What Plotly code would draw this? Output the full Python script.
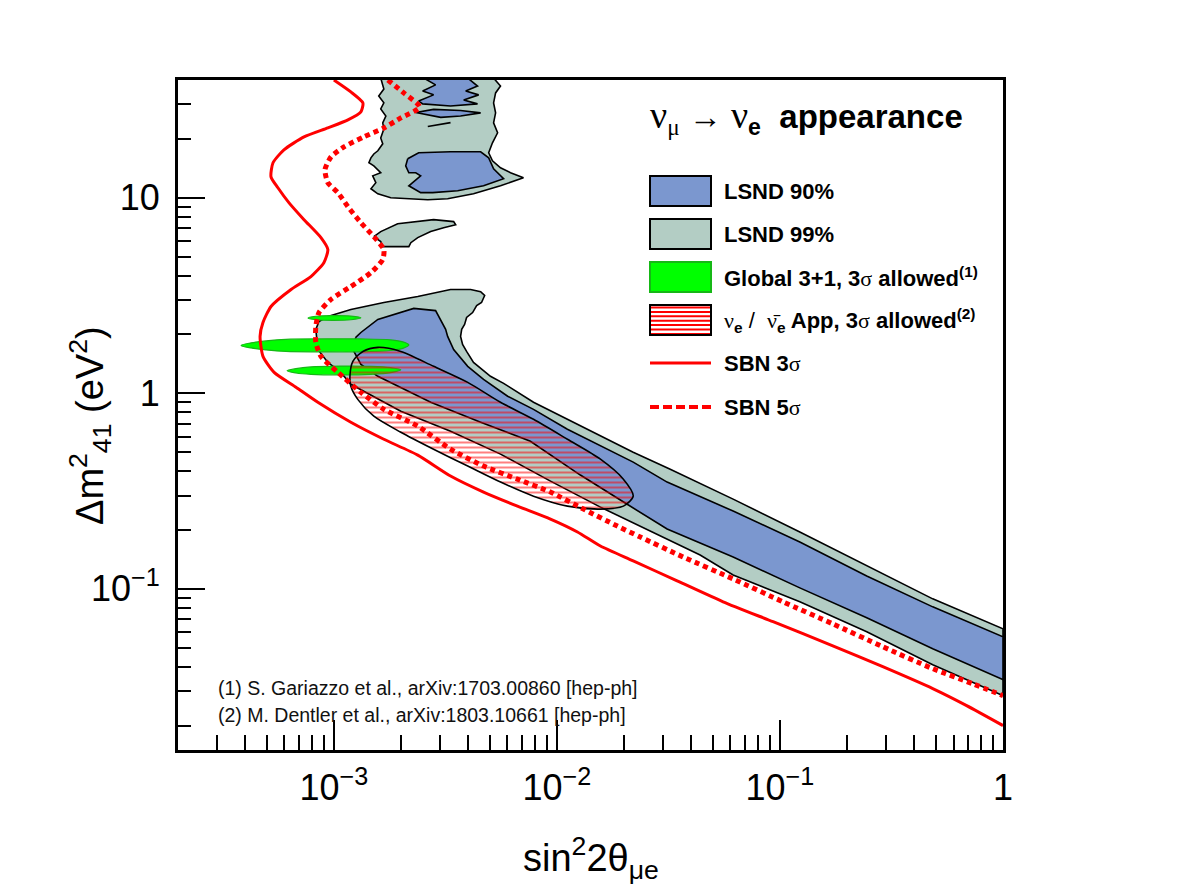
import numpy as np
import plotly.graph_objects as go

# ------------------------------------------------------------------
# Data (stored as log10 values: x = sin^2(2theta_mue), y = dm^2_41 [eV^2])
# ------------------------------------------------------------------
SBN3_LOGX = [-3.000, -2.924, -2.870, -2.879, -2.937, -3.027, -3.134, -3.224, -3.273, -3.282,
             -3.251, -3.201, -3.134, -3.058, -3.027, -3.045, -3.103, -3.192, -3.282, -3.318,
             -3.331, -3.318, -3.268, -3.170, -3.072, -2.924, -2.776, -2.624, -2.477, -2.329,
             -2.177, -2.029, -1.908, -1.805, -1.658, -1.461, -1.255, -1.031, -0.763, -0.539,
             -0.315, -0.163, 0.000]
SBN3_LOGY = [1.602, 1.541, 1.485, 1.439, 1.398, 1.357, 1.311, 1.245, 1.179, 1.107,
             1.051, 0.974, 0.888, 0.796, 0.735, 0.668, 0.597, 0.531, 0.444, 0.362,
             0.291, 0.189, 0.107, 0.031, -0.046, -0.148, -0.235, -0.316, -0.423, -0.505,
             -0.577, -0.643, -0.709, -0.781, -0.857, -0.959, -1.066, -1.168, -1.291, -1.398,
             -1.510, -1.597, -1.699]

SBN5_LOGX = [-2.758, -2.687, -2.615, -2.700, -2.776, -2.866, -2.955, -3.013, -3.040, -3.027,
             -2.982, -2.937, -2.879, -2.821, -2.776, -2.781, -2.834, -2.924, -3.013, -3.067,
             -3.081, -3.081, -3.058, -2.982, -2.879, -2.776, -2.624, -2.477, -2.329, -2.177,
             -2.029, -1.881, -1.729, -1.626, -1.434, -1.210, -0.987, -0.763, -0.539, -0.315,
             -0.136, 0.000]
SBN5_LOGY = [1.602, 1.536, 1.464, 1.408, 1.357, 1.311, 1.260, 1.209, 1.143, 1.077,
             1.026, 0.954, 0.872, 0.801, 0.735, 0.684, 0.617, 0.546, 0.480, 0.413,
             0.342, 0.260, 0.189, 0.107, 0.005, -0.082, -0.168, -0.286, -0.372, -0.439,
             -0.505, -0.592, -0.679, -0.735, -0.837, -0.949, -1.066, -1.179, -1.296, -1.408,
             -1.485, -1.546]

LSND99_MAIN_LOGX = [-3.081, -3.067, -3.027, -2.969, -2.924, -2.776, -2.624, -2.477, -2.387, -2.342,
                    -2.324, -2.338, -2.360, -2.378, -2.405, -2.414, -2.427, -2.432, -2.423, -2.405,
                    -2.374, -2.298, -2.239, -2.105, -1.953, -1.805, -1.658, -1.492, -1.210, -0.911,
                    -0.611, -0.315, 0.000, 0.000, -0.315, -0.611, -0.911, -1.210, -1.358, -1.582,
                    -1.805, -2.029, -2.253, -2.477, -2.700, -2.924, -2.969, -3.027, -3.072]
LSND99_MAIN_LOGY = [0.327, 0.367, 0.393, 0.413, 0.429, 0.464, 0.495, 0.531, 0.531, 0.520,
                    0.500, 0.464, 0.449, 0.413, 0.388, 0.352, 0.327, 0.291, 0.250, 0.214,
                    0.158, 0.087, 0.051, -0.046, -0.133, -0.219, -0.301, -0.388, -0.541, -0.709,
                    -0.883, -1.051, -1.204, -1.546, -1.388, -1.219, -1.066, -0.929, -0.827, -0.704,
                    -0.582, -0.449, -0.311, -0.194, -0.092, 0.046, 0.107, 0.158, 0.224]

LSND99_TOP_LOGX = [-2.790, -2.776, -2.799, -2.776, -2.790, -2.767, -2.781, -2.776, -2.790, -2.781,
                   -2.803, -2.821, -2.834, -2.843, -2.821, -2.790, -2.826, -2.812, -2.834, -2.803,
                   -2.745, -2.669, -2.579, -2.490, -2.374, -2.253, -2.150, -2.208, -2.253, -2.289,
                   -2.306, -2.289, -2.266, -2.284, -2.275, -2.284, -2.275, -2.253, -2.284]
LSND99_TOP_LOGY = [1.612, 1.556, 1.520, 1.485, 1.454, 1.418, 1.383, 1.352, 1.306, 1.276,
                   1.240, 1.224, 1.204, 1.179, 1.163, 1.128, 1.112, 1.077, 1.046, 1.020,
                   1.000, 0.995, 0.990, 0.995, 1.020, 1.061, 1.102, 1.128, 1.153, 1.189,
                   1.230, 1.281, 1.332, 1.383, 1.434, 1.485, 1.536, 1.571, 1.612]

LSND99_MID_LOGX = [-2.821, -2.790, -2.714, -2.669, -2.553, -2.463, -2.454, -2.508, -2.566, -2.624,
                   -2.655, -2.664, -2.781, -2.790, -2.808]
LSND99_MID_LOGY = [0.801, 0.827, 0.867, 0.872, 0.888, 0.878, 0.862, 0.847, 0.827, 0.796,
                   0.770, 0.750, 0.750, 0.776, 0.791]

LSND90_MAIN_LOGX = [-2.902, -2.879, -2.803, -2.700, -2.642, -2.544, -2.517, -2.499, -2.490, -2.463,
                    -2.400, -2.329, -2.221, -2.105, -1.953, -1.805, -1.658, -1.506, -1.210, -0.911,
                    -0.611, -0.315, 0.000, 0.000, -0.315, -0.611, -0.911, -1.210, -1.506, -1.694,
                    -1.895, -2.119, -2.342, -2.566, -2.803, -2.879, -2.915]
LSND90_MAIN_LOGY = [0.286, 0.311, 0.378, 0.413, 0.434, 0.423, 0.362, 0.327, 0.291, 0.224,
                    0.138, 0.071, -0.015, -0.082, -0.184, -0.270, -0.352, -0.454, -0.602, -0.760,
                    -0.934, -1.092, -1.245, -1.464, -1.306, -1.148, -0.995, -0.837, -0.694, -0.561,
                    -0.418, -0.245, -0.148, -0.046, 0.087, 0.148, 0.224]

LSND90_TOP_LOGX = [-2.597, -2.544, -2.602, -2.553, -2.620, -2.602, -2.477, -2.356, -2.418, -2.351,
                   -2.409, -2.356, -2.400]
LSND90_TOP_LOGY = [1.612, 1.577, 1.546, 1.526, 1.495, 1.480, 1.469, 1.480, 1.500, 1.526,
                   1.546, 1.571, 1.612]

LSND90_LENS_LOGX = [-2.633, -2.553, -2.432, -2.342, -2.432, -2.521]
LSND90_LENS_LOGY = [1.436, 1.452, 1.446, 1.434, 1.418, 1.411]

LSND90_ISL_LOGX = [-2.669, -2.620, -2.477, -2.342, -2.306, -2.284, -2.239, -2.329, -2.445, -2.557,
                   -2.611, -2.664, -2.647, -2.611, -2.633, -2.664, -2.678]
LSND90_ISL_LOGY = [1.199, 1.230, 1.235, 1.235, 1.204, 1.148, 1.097, 1.061, 1.036, 1.026,
                   1.026, 1.061, 1.077, 1.112, 1.128, 1.128, 1.163]

LSND_SEG_LOGX = [-2.579, -2.477]
LSND_SEG_LOGY = [1.364, 1.384]

GLOBAL1_LOGX = [-3.116, -3.081, -3.000, -2.924, -2.879, -2.924, -3.000, -3.081]
GLOBAL1_LOGY = [0.385, 0.394, 0.397, 0.395, 0.386, 0.376, 0.373, 0.376]
GLOBAL2_LOGX = [-3.416, -3.371, -3.304, -3.215, -3.058, -2.879, -2.745, -2.691, -2.664, -2.691,
                -2.745, -2.879, -3.058, -3.215, -3.304, -3.371]
GLOBAL2_LOGY = [0.245, 0.258, 0.268, 0.276, 0.278, 0.278, 0.273, 0.263, 0.247, 0.230,
                0.219, 0.212, 0.212, 0.214, 0.222, 0.232]
GLOBAL3_LOGX = [-3.210, -3.170, -3.103, -2.969, -2.834, -2.745, -2.700, -2.745, -2.834, -2.969,
                -3.103, -3.170]
GLOBAL3_LOGY = [0.115, 0.126, 0.135, 0.139, 0.138, 0.131, 0.120, 0.106, 0.097, 0.094,
                0.097, 0.104]

APP_LOGX = [-2.928, -2.915, -2.870, -2.803, -2.700, -2.553, -2.400, -2.253, -2.105, -1.953,
            -1.805, -1.702, -1.658, -1.702, -1.805, -1.953, -2.105, -2.253, -2.400, -2.553,
            -2.700, -2.821, -2.893, -2.924]
APP_LOGY = [0.087, 0.163, 0.214, 0.235, 0.214, 0.138, 0.056, -0.046, -0.133, -0.235,
            -0.337, -0.439, -0.526, -0.577, -0.592, -0.577, -0.526, -0.454, -0.372, -0.286,
            -0.199, -0.117, -0.031, 0.036]

X_TICKVALS = [1e-3, 1e-2, 1e-1, 1]
X_TICKTEXT = ["10<sup>\u22123</sup>", "10<sup>\u22122</sup>", "10<sup>\u22121</sup>", "1"]
Y_TICKVALS = [0.1, 1, 10]
Y_TICKTEXT = ["10<sup>\u22121</sup>", "1", "10"]

SERIF = "<span style=\"font-family:'Liberation Serif'\">%s</span>"
LEGEND_LABELS = [
    "<b>LSND 90%</b>",
    "<b>LSND 99%</b>",
    "<b>Global 3+1, 3</b>" + SERIF % "\u03c3" + "<b> allowed</b><sup><b>(1)</b></sup>",
    SERIF % "\u03bd" + "<sub><b>e</b></sub> / \u00a0" + SERIF % "\u03bd\u0304" + "<sub><b>e</b></sub>"
    "<b> App, 3</b>" + SERIF % "\u03c3" + "<b> allowed</b><sup><b>(2)</b></sup>",
    "<b>SBN 3</b>" + SERIF % "\u03c3",
    "<b>SBN 5</b>" + SERIF % "\u03c3",
]
FOOTNOTES = ["(1) S. Gariazzo et al., arXiv:1703.00860 [hep-ph]",
             "(2) M. Dentler et al., arXiv:1803.10661 [hep-ph]"]

# ------------------------------------------------------------------
C90 = "#7b97cf"
C99 = "#b3cdc4"
CGREEN = "#00ff00"
CRED = "#ff0000"

def vals(a):
    return np.power(10.0, np.array(a, dtype=float))

def closed(a):
    return list(a) + [a[0]]

fig = go.Figure()

def region(lx, ly, color, lw=1.6, lc="black", shape="linear"):
    fig.add_trace(go.Scatter(x=vals(closed(lx)), y=vals(closed(ly)), mode="lines",
                             fill="toself", fillcolor=color,
                             line=dict(color=lc, width=lw, shape=shape),
                             hoverinfo="skip", showlegend=False))

region(LSND99_MAIN_LOGX, LSND99_MAIN_LOGY, C99)
region(LSND99_TOP_LOGX, LSND99_TOP_LOGY, C99)
region(LSND99_MID_LOGX, LSND99_MID_LOGY, C99)
region(LSND90_MAIN_LOGX, LSND90_MAIN_LOGY, C90)
region(LSND90_TOP_LOGX, LSND90_TOP_LOGY, C90)
region(LSND90_LENS_LOGX, LSND90_LENS_LOGY, C90)
region(LSND90_ISL_LOGX, LSND90_ISL_LOGY, C90)
fig.add_trace(go.Scatter(x=vals(LSND_SEG_LOGX), y=vals(LSND_SEG_LOGY), mode="lines",
                         line=dict(color="black", width=1.6), hoverinfo="skip", showlegend=False))

for gx, gy in [(GLOBAL1_LOGX, GLOBAL1_LOGY), (GLOBAL2_LOGX, GLOBAL2_LOGY), (GLOBAL3_LOGX, GLOBAL3_LOGY)]:
    region(gx, gy, CGREEN, lw=1.2, lc="#16b816", shape="spline")

fig.add_trace(go.Scatter(x=vals(closed(APP_LOGX)), y=vals(closed(APP_LOGY)), mode="lines",
                         fill="toself", fillcolor="rgba(255,255,255,0)",
                         fillpattern=dict(shape="-", fgcolor=CRED, bgcolor="rgba(255,255,255,0)",
                                          size=5, solidity=0.4),
                         line=dict(color="black", width=1.6, shape="spline", smoothing=0.8),
                         hoverinfo="skip", showlegend=False))

fig.add_trace(go.Scatter(x=vals(SBN3_LOGX), y=vals(SBN3_LOGY), mode="lines",
                         line=dict(color=CRED, width=3, shape="spline", smoothing=0.6),
                         hoverinfo="skip", showlegend=False))
fig.add_trace(go.Scatter(x=vals(SBN5_LOGX), y=vals(SBN5_LOGY), mode="lines",
                         line=dict(color=CRED, width=5, dash="5px,4px", shape="spline", smoothing=0.6),
                         hoverinfo="skip", showlegend=False))

# ------------------------------------------------------------------
L, R, T, B = 178, 1003, 80, 750
W, H = 1182, 894

def px_x(p):
    return (p - L) / (R - L)

def px_y(p):
    return (B - p) / (B - T)

def minor_vals(lo_exp, hi_exp):
    out = []
    for e in range(lo_exp, hi_exp + 1):
        for m in range(2, 10):
            out.append(m * 10.0 ** e)
    return out

fig.update_layout(
    width=W, height=H,
    margin=dict(l=L, r=W - R, t=T, b=H - B),
    paper_bgcolor="white", plot_bgcolor="white",
    font=dict(family="Liberation Sans, Arial, sans-serif", color="black"),
    showlegend=False,
)

fig.update_xaxes(type="log", range=[np.log10(2e-4), 0], showgrid=False, zeroline=False,
                 showline=True, linecolor="black", linewidth=3, mirror=True,
                 ticks="inside", ticklen=30, tickwidth=1.8, tickcolor="black",
                 tickmode="array", tickvals=X_TICKVALS, ticktext=X_TICKTEXT,
                 tickfont=dict(size=36), ticklabelstandoff=4,
                 minor=dict(ticks="inside", ticklen=15, tickwidth=1.5, tickcolor="black",
                            tickmode="array", tickvals=minor_vals(-4, -1), showgrid=False))
fig.update_yaxes(type="log", range=[np.log10(0.015), np.log10(40)], showgrid=False, zeroline=False,
                 showline=True, linecolor="black", linewidth=3, mirror=True,
                 ticks="inside", ticklen=27, tickwidth=1.8, tickcolor="black",
                 tickmode="array", tickvals=Y_TICKVALS, ticktext=Y_TICKTEXT,
                 tickfont=dict(size=36), ticklabelstandoff=8,
                 minor=dict(ticks="inside", ticklen=13, tickwidth=1.5, tickcolor="black",
                            tickmode="array", tickvals=minor_vals(-2, 1), showgrid=False))

# axis titles
fig.add_annotation(xref="paper", yref="paper", x=0.5, y=px_y(858), showarrow=False,
                   xanchor="center", yanchor="middle",
                   text="sin<sup>2</sup>2\u03b8<sub>\u03bce</sub>", font=dict(size=38))
fig.add_annotation(xref="paper", yref="paper", x=px_x(90), y=px_y(426), showarrow=False,
                   xanchor="center", yanchor="middle", textangle=-90,
                   text="\u0394m<sup>2</sup><sub>41</sub> (eV<sup>2</sup>)", font=dict(size=38))

# header text inside plot
fig.add_annotation(xref="paper", yref="paper", x=px_x(648), y=px_y(117), showarrow=False,
                   xanchor="left", yanchor="middle",
                   text="<span style=\"font-family:'Liberation Serif';font-size:38px\">\u03bd</span>"
                        "<sub><span style=\"font-family:'Liberation Serif'\">\u03bc</span></sub> "
                        "<span style=\"font-family:'Liberation Serif'\">\u2192</span> "
                        "<span style=\"font-family:'Liberation Serif';font-size:38px\">\u03bd</span>"
                        "<sub><b>e</b></sub>\u00a0\u00a0<b>appearance</b>",
                   font=dict(size=33))

# legend (drawn by hand)
box_x0, box_x1 = px_x(650), px_x(711)
rows_py = [191, 234, 277, 320, 363, 407]
box_half = 15
fills = [C90, C99, CGREEN, "white"]
borders = ["black", "black", "#16b816", "black"]
for i in range(4):
    yc = rows_py[i]
    fig.add_shape(type="rect", xref="paper", yref="paper", x0=box_x0, x1=box_x1,
                  y0=px_y(yc + box_half), y1=px_y(yc - box_half),
                  fillcolor=fills[i], line=dict(color=borders[i], width=2))
# hatch inside 4th legend box
for k in range(7):
    yy = rows_py[3] - box_half + 2.5 + k * 4.4
    fig.add_shape(type="line", xref="paper", yref="paper", x0=px_x(651), x1=px_x(710),
                  y0=px_y(yy), y1=px_y(yy), line=dict(color=CRED, width=2))
fig.add_shape(type="rect", xref="paper", yref="paper", x0=box_x0, x1=box_x1,
              y0=px_y(rows_py[3] + box_half), y1=px_y(rows_py[3] - box_half),
              fillcolor="rgba(0,0,0,0)", line=dict(color="black", width=2))
fig.add_shape(type="line", xref="paper", yref="paper", x0=box_x0, x1=box_x1,
              y0=px_y(rows_py[4]), y1=px_y(rows_py[4]), line=dict(color=CRED, width=3))
fig.add_shape(type="line", xref="paper", yref="paper", x0=box_x0, x1=box_x1,
              y0=px_y(rows_py[5]), y1=px_y(rows_py[5]), line=dict(color=CRED, width=4, dash="9px,4px"))
for i, lab in enumerate(LEGEND_LABELS):
    fig.add_annotation(xref="paper", yref="paper", x=px_x(722), y=px_y(rows_py[i]), showarrow=False,
                       xanchor="left", yanchor="middle", text=lab, font=dict(size=22))

# footnotes
for i, t in enumerate(FOOTNOTES):
    fig.add_annotation(xref="paper", yref="paper", x=px_x(216), y=px_y(688 + 27 * i), showarrow=False,
                       xanchor="left", yanchor="middle", text=t, font=dict(size=19.5, color="#111"))

fig.write_html("out.html")
